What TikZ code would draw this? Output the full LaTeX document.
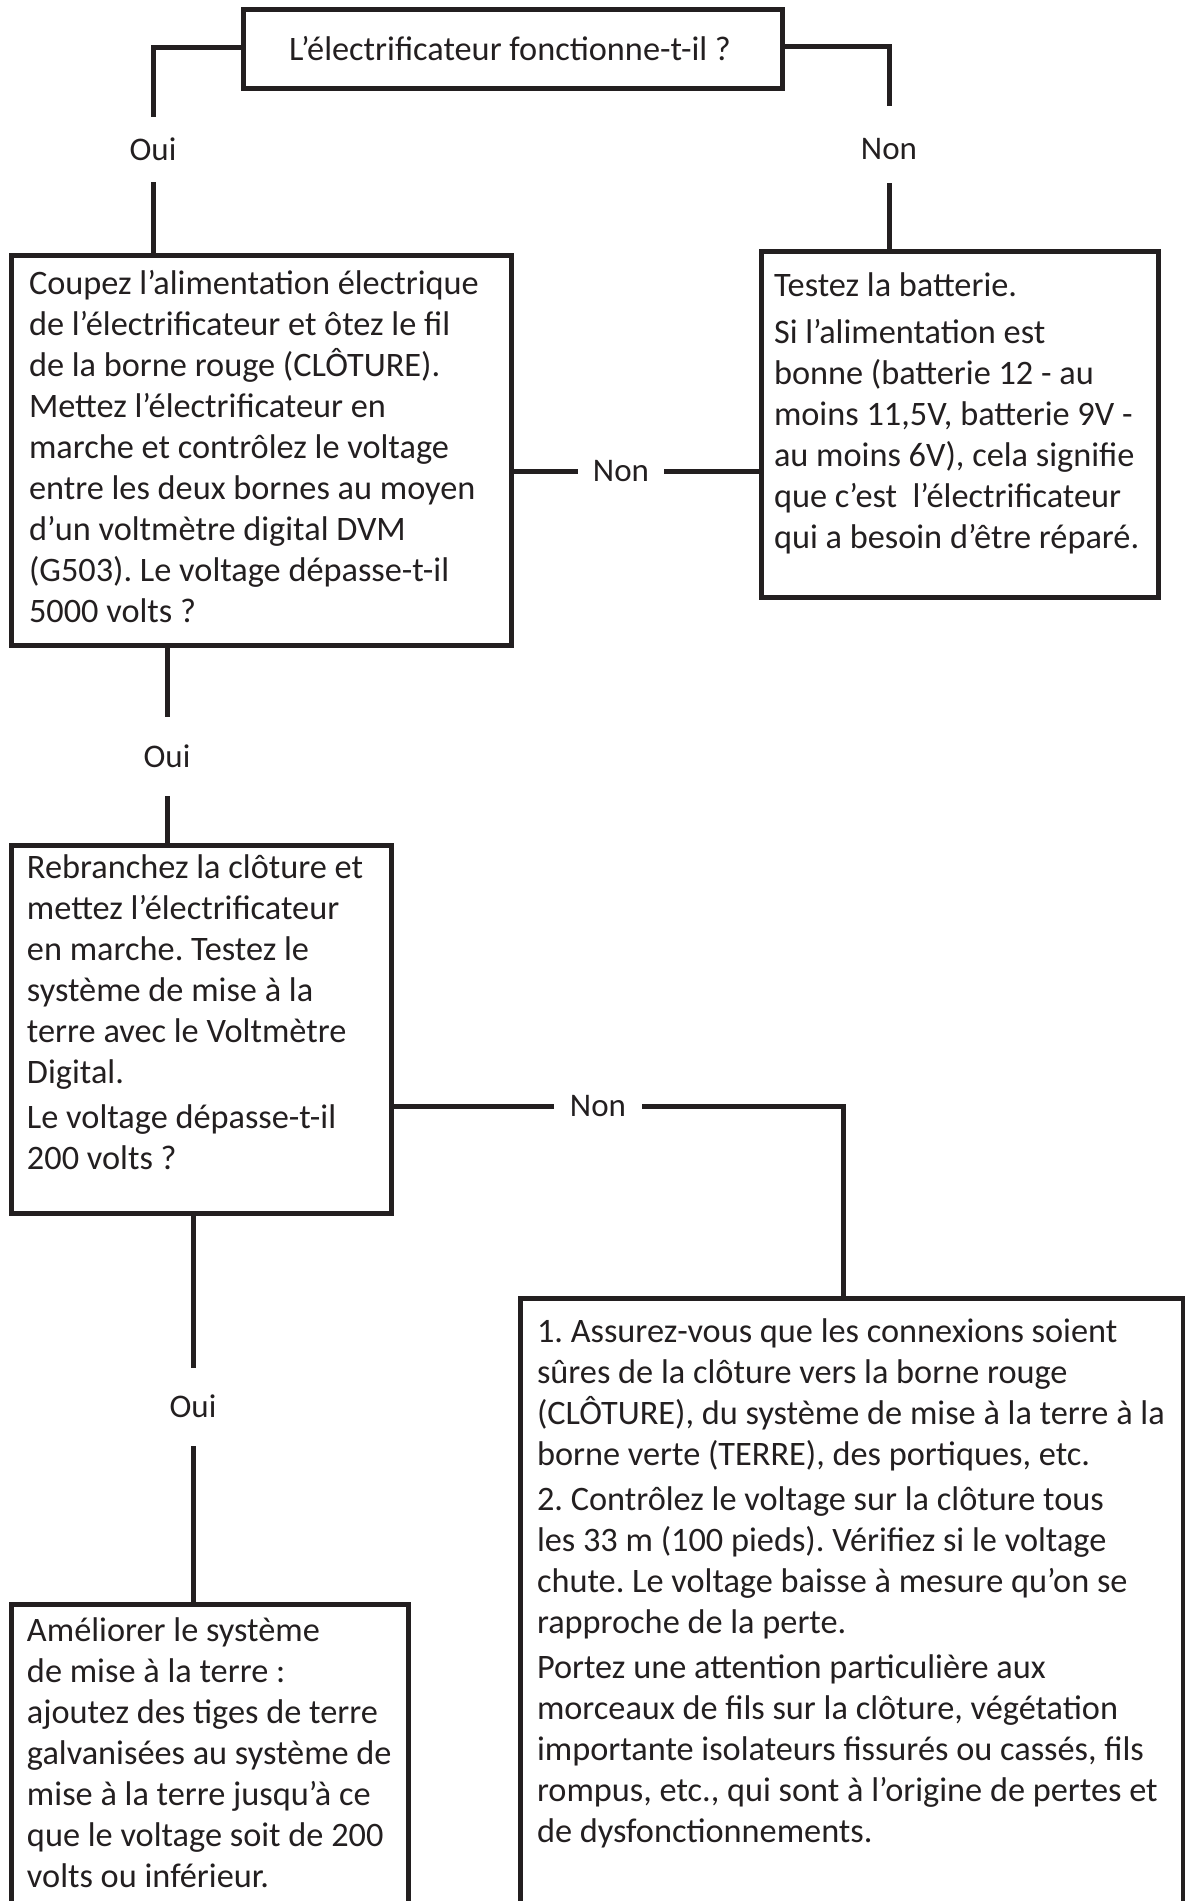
\documentclass[tikz,border=0pt]{standalone}
\usepackage{fontspec}
\setmainfont{Carlito}
\definecolor{ink}{HTML}{231F20}
\frenchspacing
\begin{document}
\begin{tikzpicture}[x=1pt,y=-1pt,
  box/.style={draw=ink, line width=5pt, rectangle, inner sep=0pt, outer sep=0pt, anchor=north west},
  txt/.style={text=ink, font=\fontsize{34.3}{41}\selectfont, align=left, inner sep=0pt, outer sep=0pt, anchor=north west},
  lab/.style={text=ink, font=\fontsize{33}{41}\selectfont, inner sep=0pt, outer sep=0pt, text height=21pt, text depth=0pt},
  conn/.style={draw=ink, line width=5pt, line join=miter}]
\useasboundingbox (0,0) rectangle (1185,1901);
\clip (0,0) rectangle (1185,1901);
% boxes
\node[box, minimum width=539pt, minimum height=79pt] (q0) at (243,9.5) {};
\node[box, minimum width=500pt, minimum height=390pt] (b2) at (11,255) {};
\node[box, minimum width=397pt, minimum height=346pt] (b3) at (761,251) {};
\node[box, minimum width=380pt, minimum height=368pt] (b4) at (11,845) {};
\node[box, minimum width=663pt, minimum height=700pt] (b5) at (520,1298) {};
\node[box, minimum width=397pt, minimum height=400pt] (b6) at (11,1604) {};
% texts
\node[lab, anchor=base, font=\fontsize{34.3}{41}\selectfont] (q0t) at (510,60) {L’électrificateur fonctionne-t-il ?};
\node[txt] (t2) at (29,262) {\rule{0pt}{32pt}Coupez l’alimentation électrique\\
de l’électrificateur et ôtez le fil\\
de la borne rouge (CLÔTURE).\\
Mettez l’électrificateur en\\
marche et contrôlez le voltage\\
entre les deux bornes au moyen\\
d’un voltmètre digital DVM\\
(G503). Le voltage dépasse-t-il\\
5000 volts ?};
\node[txt] (t3) at (774,264) {\rule{0pt}{32pt}Testez la batterie.\\[6pt]
Si l’alimentation est\\
bonne (batterie 12 - au\\
moins 11,5V, batterie 9V -\\
au moins 6V), cela signifie\\
que c’est~ l’électrificateur\\
qui a besoin d’être réparé.};
\node[txt] (t4) at (27,846) {\rule{0pt}{32pt}Rebranchez la clôture et\\
mettez l’électrificateur\\
en marche. Testez le\\
système de mise à la\\
terre avec le Voltmètre\\
Digital.\\[4pt]
Le voltage dépasse-t-il\\
200 volts ?};
\node[txt] (t5) at (537,1310) {\rule{0pt}{32pt}1. Assurez-vous que les connexions soient\\
sûres de la clôture vers la borne rouge\\
(CLÔTURE), du système de mise à la terre à la\\
borne verte (TERRE), des portiques, etc.\\[4pt]
2. Contrôlez le voltage sur la clôture tous\\
les 33 m (100 pieds). Vérifiez si le voltage\\
chute. Le voltage baisse à mesure qu’on se\\
rapproche de la perte.\\[4pt]
Portez une attention particulière aux\\
morceaux de fils sur la clôture, végétation\\
importante isolateurs fissurés ou cassés, fils\\
rompus, etc., qui sont à l’origine de pertes et\\
de dysfonctionnements.};
\node[txt] (t6) at (27,1609) {\rule{0pt}{32pt}Améliorer le système\\
de mise à la terre :\\
ajoutez des tiges de terre\\
galvanisées au système de\\
mise à la terre jusqu’à ce\\
que le voltage soit de 200\\
volts ou inférieur.};
% labels
\node[lab, minimum height=65pt] (oui1) at (153,149.5) {Oui};
\node[lab, minimum height=77pt, text height=29pt] (non1) at (889,144.5) {Non};
\node[lab, minimum width=86pt] (non2) at (621,471) {Non};
\node[lab, minimum height=79pt] (oui2) at (167,756.5) {Oui};
\node[lab, minimum width=88pt] (non3) at (598,1106) {Non};
\node[lab, minimum height=78pt] (oui3) at (193,1407) {Oui};
\coordinate (k5) at (843,1106);
% connectors
\draw[conn] ([yshift=2pt]q0.west) -| (oui1.north);
\draw[conn] (oui1.south) -- (oui1.south |- b2.north);
\draw[conn] ([yshift=3pt]q0.east) -| (non1.north);
\draw[conn] (non1.south) -- (non1.south |- b3.north);
\draw[conn] (b2.east |- non2.west) -- (non2.west);
\draw[conn] (non2.east) -- (non2.east -| b3.west);
\draw[conn] (oui2.north |- b2.south) -- (oui2.north);
\draw[conn] (oui2.south) -- (oui2.south |- b4.north);
\draw[conn] (b4.east |- non3.west) -- (non3.west);
\draw[conn] (non3.east) -- (k5) -- (k5 |- b5.north);
\draw[conn] (oui3.north |- b4.south) -- (oui3.north);
\draw[conn] (oui3.south) -- (oui3.south |- b6.north);
\end{tikzpicture}
\end{document}
